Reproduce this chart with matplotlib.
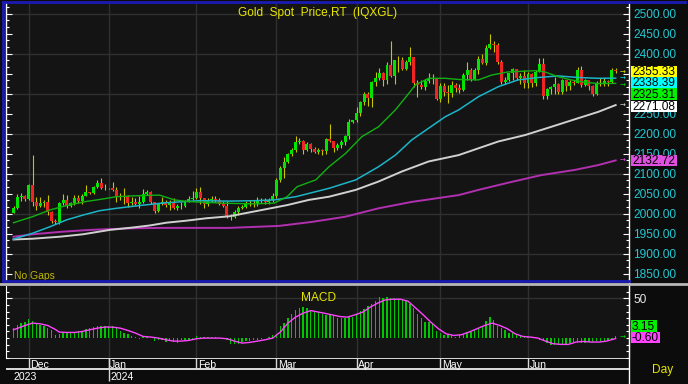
import numpy as np
import pandas as pd
import matplotlib
matplotlib.use('Agg')
import matplotlib.pyplot as plt
from matplotlib.patches import Rectangle

plt.rcParams['font.family'] = ['Liberation Sans', 'DejaVu Sans']

# daily bars, 27 Nov 2023 .. 4 Jul 2024
dates = pd.bdate_range('2023-11-27', '2024-07-04')

opens = [2002, 2014, 2041, 2044, 2036, 2072, 2029, 2019, 2026, 2029, 2004, 1982, 1980, 2027, 2035, 2019, 2027, 2040, 2031, 2045,
         2053, 2052, 2067, 2077, 2065, 2063, 2063, 2059, 2041, 2043, 2045, 2027, 2030, 2024, 2028, 2049, 2055, 2028, 2006, 2023,
         2029, 2021, 2029, 2014, 2020, 2018, 2032, 2037, 2039, 2054, 2039, 2025, 2035, 2035, 2034, 2024, 2020, 1992, 1992, 2004,
         2013, 2017, 2025, 2026, 2024, 2035, 2031, 2029, 2034, 2044, 2083, 2115, 2128, 2148, 2160, 2179, 2182, 2158, 2175, 2162,
         2155, 2160, 2157, 2186, 2181, 2165, 2172, 2178, 2194, 2230, 2233, 2251, 2280, 2300, 2290, 2330, 2339, 2352, 2333, 2372,
         2344, 2383, 2383, 2361, 2379, 2391, 2327, 2322, 2316, 2332, 2337, 2336, 2286, 2320, 2303, 2301, 2322, 2314, 2309, 2346,
         2360, 2336, 2358, 2386, 2376, 2415, 2425, 2421, 2378, 2329, 2334, 2351, 2361, 2338, 2343, 2326, 2350, 2327, 2355, 2375,
         2294, 2311, 2316, 2324, 2303, 2333, 2319, 2330, 2327, 2360, 2322, 2334, 2320, 2298, 2327, 2326, 2331, 2330, 2358]
highs = [2018, 2048, 2052, 2047, 2075, 2146, 2042, 2041, 2035, 2047, 2006, 1986, 2030, 2048, 2047, 2030, 2046, 2047, 2049, 2071,
         2055, 2070, 2084, 2088, 2074, 2065, 2079, 2066, 2051, 2064, 2047, 2041, 2040, 2045, 2062, 2058, 2057, 2030, 2026, 2041,
         2033, 2034, 2040, 2025, 2029, 2035, 2043, 2056, 2065, 2066, 2040, 2039, 2044, 2044, 2039, 2031, 2031, 1998, 2008, 2018,
         2022, 2031, 2034, 2035, 2042, 2038, 2040, 2039, 2052, 2088, 2119, 2141, 2152, 2165, 2195, 2189, 2185, 2180, 2177, 2167,
         2165, 2162, 2190, 2223, 2182, 2177, 2184, 2196, 2236, 2234, 2266, 2281, 2305, 2305, 2331, 2354, 2365, 2354, 2378, 2431,
         2384, 2393, 2392, 2385, 2417, 2392, 2334, 2335, 2337, 2352, 2349, 2337, 2326, 2326, 2322, 2331, 2326, 2324, 2351, 2378,
         2365, 2363, 2395, 2400, 2422, 2450, 2431, 2427, 2383, 2341, 2351, 2364, 2362, 2351, 2360, 2354, 2352, 2358, 2388, 2388,
         2315, 2318, 2342, 2326, 2337, 2334, 2335, 2334, 2366, 2368, 2337, 2335, 2322, 2332, 2338, 2339, 2334, 2365, 2364]
lows = [2001, 2011, 2031, 2031, 2034, 2018, 2009, 2016, 2017, 1996, 1976, 1973, 1974, 2022, 2015, 2016, 2021, 2026, 2023, 2043,
        2050, 2049, 2064, 2062, 2058, 2061, 2056, 2030, 2033, 2024, 2016, 2022, 2021, 2013, 2027, 2046, 2024, 2002, 2005, 2021,
        2016, 2010, 2011, 2009, 2011, 2017, 2028, 2035, 2036, 2025, 2014, 2019, 2030, 2029, 2021, 2016, 1990, 1984, 1990, 1996,
        2012, 2015, 2019, 2016, 2019, 2026, 2025, 2024, 2030, 2038, 2079, 2088, 2126, 2143, 2155, 2175, 2150, 2156, 2155, 2151,
        2150, 2146, 2150, 2180, 2155, 2160, 2165, 2171, 2186, 2226, 2228, 2245, 2271, 2268, 2266, 2320, 2333, 2319, 2325, 2342,
        2324, 2355, 2359, 2359, 2372, 2316, 2291, 2311, 2308, 2326, 2325, 2285, 2280, 2295, 2277, 2291, 2303, 2302, 2306, 2333,
        2332, 2335, 2350, 2373, 2372, 2412, 2404, 2374, 2325, 2325, 2332, 2333, 2334, 2324, 2314, 2314, 2316, 2318, 2353, 2287,
        2287, 2298, 2299, 2300, 2298, 2307, 2309, 2322, 2327, 2316, 2318, 2309, 2293, 2297, 2319, 2318, 2318, 2327, 2352]
closes = [2014, 2041, 2044, 2036, 2072, 2029, 2019, 2026, 2029, 2004, 1982, 1980, 2027, 2035, 2019, 2027, 2040, 2031, 2045, 2053,
          2052, 2067, 2077, 2065, 2063, 2063, 2059, 2041, 2043, 2045, 2027, 2030, 2024, 2028, 2049, 2055, 2028, 2006, 2023, 2029,
          2021, 2029, 2014, 2020, 2018, 2032, 2037, 2039, 2054, 2039, 2025, 2035, 2035, 2034, 2024, 2020, 1992, 1992, 2004, 2013,
          2017, 2025, 2026, 2024, 2035, 2031, 2029, 2034, 2044, 2083, 2115, 2128, 2148, 2160, 2179, 2182, 2158, 2175, 2162, 2155,
          2160, 2157, 2186, 2181, 2165, 2172, 2178, 2194, 2230, 2233, 2251, 2280, 2300, 2290, 2330, 2339, 2352, 2333, 2372, 2344,
          2383, 2383, 2361, 2379, 2391, 2327, 2322, 2316, 2332, 2337, 2336, 2286, 2320, 2303, 2301, 2322, 2314, 2309, 2346, 2360,
          2336, 2358, 2386, 2376, 2415, 2425, 2421, 2378, 2329, 2334, 2351, 2361, 2338, 2343, 2326, 2350, 2327, 2355, 2375, 2294,
          2311, 2316, 2324, 2303, 2333, 2319, 2330, 2327, 2360, 2322, 2334, 2320, 2298, 2327, 2326, 2331, 2330, 2358, 2355.33]

# moving averages (bar index, value)
ma20_idx = [0, 5, 9.6, 14, 19, 22.6, 27, 31.3, 38.3, 42.2, 45.6, 54.5, 63.2, 68.4, 71.8, 74.4, 79.3, 82.8, 87.1, 91.4,
            95.8, 100.2, 103.7, 105.4, 108.9, 113.3, 116.8, 122, 125.4, 129.8, 136.8, 139.4, 142.9, 146.3, 149.9, 153.4, 158]
ma20_val = [1977, 1992, 2009, 2020, 2030, 2035, 2042, 2044, 2046, 2034, 2030, 2026, 2024, 2026, 2042, 2067, 2084, 2117, 2150, 2192,
            2217, 2259, 2300, 2321, 2338, 2338, 2335, 2334, 2346, 2354, 2357, 2354, 2342, 2334, 2328, 2325, 2325.31]
ma50_idx = [0, 5.1, 9.6, 13.9, 18.2, 22.6, 27, 33.1, 40.1, 48.8, 56.6, 63.2, 68.4, 74.1, 82.8, 89.8, 95.8, 100.2, 104.5, 108.9,
            113.3, 116.8, 122, 127.2, 132.4, 137.7, 142.9, 148.1, 153.4, 158]
ma50_val = [1936, 1951, 1967, 1984, 1996, 2007, 2013, 2020, 2027, 2032, 2031, 2032, 2034, 2042, 2063, 2084, 2117, 2146, 2184, 2213,
            2242, 2259, 2292, 2317, 2334, 2340, 2344, 2340, 2338, 2338.39]
ma100_idx = [0, 5.1, 12.2, 18.2, 25.3, 31.3, 35.7, 40.1, 45.3, 50.5, 56.6, 65.3, 71.8, 77.5, 82.8, 89.8, 95.8, 101.9, 108.9, 116.8,
             122, 127.2, 134.2, 141.2, 148.1, 153.4, 158]
ma100_val = [1935, 1937, 1942, 1948, 1959, 1965, 1970, 1977, 1982, 1988, 1993, 2009, 2021, 2034, 2042, 2059, 2080, 2105, 2130, 2146,
             2163, 2180, 2196, 2217, 2238, 2254, 2271.08]
ma200_idx = [0, 5.1, 12.2, 20, 25.3, 31.3, 39.1, 56.6, 69.7, 78.3, 87.1, 95.8, 104.5, 116.8, 122, 129.8, 138.5, 147.3, 153.4, 158]
ma200_val = [1942, 1948, 1954, 1959, 1961, 1963, 1964, 1964, 1969, 1979, 1992, 2013, 2029, 2046, 2059, 2077, 2096, 2109, 2121, 2132.72]

# MACD histogram (one per bar) and signal line
macd = [12.5, 17, 19, 20, 24, 21, 18, 17, 15.4, 12.5, 9.6, 3.3, 5.4, 6.7, 6.7, 6.3, 7.5, 8.3, 9.2, 11.7,
        12.1, 14.2, 14.6, 15.4, 15.4, 14.6, 14.6, 12.5, 8.3, 6.7, 4.6, 2.1, 1.3, -0.8, 1.3, 0.8, 0.4, -3.8, -2.9, -2.1,
        -4.6, -3.8, -5.4, -5.8, -2.9, -2.1, -2.1, -0.8, 2.1, 1.3, 1.3, 1.3, 1.3, 1.3, 0, -0.8, -2.9, -7.1, -7.9, -7.1,
        -5.4, -3.8, -3.8, -2.9, -2.9, -0.8, 0, 1.3, 3.3, 5.4, 15.4, 19.2, 25, 30.4, 35.4, 37.9, 38.8, 37.9, 35.4, 34.6,
        33.3, 30.4, 29.2, 29.2, 27.5, 25.4, 25, 25.4, 26.3, 27.1, 30.4, 34.6, 36.7, 40.8, 42.9, 46.3, 51.3, 50, 51.3, 50.4,
        50.4, 49.2, 48.3, 47.9, 42.9, 37.9, 30.4, 25, 20, 20, 17.1, 8.3, 6.3, 3.3, 3.3, 3.3, 1.3, 3.3, 5.4, 7.5,
        7.5, 9.6, 12.9, 14.6, 21.3, 26.3, 22.9, 15.8, 12.5, 10.4, 6.3, 6.3, 5.4, 2.5, 2.1, 1.3, 0.4, 0, -2.1, -3.8,
        -6.3, -8.3, -8.3, -9.2, -8.3, -7.5, -6.3, -5.4, -5.4, -5.8, -6.3, -5.4, -5.0, -4.2, -4.2, -3.8, -2.5, -0.8, 3.15]
sig_idx = [0, 3, 5, 7, 9, 11, 12, 14, 16, 18, 20, 22, 24, 26, 28, 30, 32, 34, 36, 38,
           40, 42, 44, 46, 48, 50, 52, 54, 56, 58, 60, 62, 64, 66, 68, 70, 72, 74, 76, 78,
           81.5, 85.6, 87.6, 89.6, 91.6, 93.6, 95.5, 97.5, 99.5, 101.5, 103.5, 105.5, 107.5, 109.5, 111.5, 113.5, 115.5, 117.5, 119.5, 121.6,
           123.6, 125.6, 127.6, 129.6, 131.6, 133.6, 135.6, 137.6, 139.6, 141.6, 143.6, 145.6, 147.6, 149.6, 151.6, 153.6, 155.6, 158]
sig_val = [10.4, 15.8, 18.8, 17.9, 15.8, 10.8, 7.5, 7.1, 7.1, 8.3, 10.4, 12.5, 13.8, 13.8, 12.5, 9.6, 6.3, 2.1, 1.3, 0,
           -2.1, -3.8, -3.8, -2.9, -0.8, 0, 0, 0, -0.8, -3.8, -6.3, -5.4, -3.8, -2.1, 0, 7.5, 18.8, 26.3, 31.3, 34.5,
           31.3, 27.1, 26.3, 29.2, 32.5, 38.8, 43.8, 47.9, 48.8, 48.8, 46.3, 37.9, 29.2, 20, 11.7, 5.4, 3.3, 4.2, 7.5, 11.7,
           15.8, 18.8, 15.8, 11.7, 5.4, 2.1, 1.3, 0, -3.8, -7.1, -7.9, -7.9, -5.0, -4.2, -5.0, -5.0, -3.8, -0.60]

# axis labels hidden under the value tags in the original
hidden_labels = [2300, 2350]

BG = '#141414'
GRID = '#303030'
W, H = 688, 384

fig = plt.figure(figsize=(W / 100, H / 100), dpi=100, facecolor='#0c0c0c')


def px_axes(x0, y0, x1, y1):
    return fig.add_axes([x0 / W, 1 - y1 / H, (x1 - x0) / W, (y1 - y0) / H])


def px_text(x, y, s, **kw):
    fig.text(x / W, 1 - y / H, s, **kw)


def price_fmt(v, pos):
    if int(round(v)) in hidden_labels:
        return ''
    return '%.2f' % v


idx = np.arange(len(dates))
xlo, xhi = -1.97, 161.5
month_first = dates.to_series().groupby(dates.to_period('M')).head(1)
month_pos = [int(np.where(dates == d)[0][0]) for d in month_first.index[1:-1]]
month_lab = [d.strftime('%b') for d in month_first.index[1:-1]]

# ---------------- price panel
ax = px_axes(6, 3, 629, 280)
ax.set_facecolor(BG)
ax.set_xlim(xlo, xhi)
ax.set_ylim(1833.75, 2526.25)
for p in range(1900, 2501, 100):
    ax.axhline(p, color=GRID, lw=1, zorder=0)
for m in month_pos:
    ax.axvline(m, color=GRID, lw=1, zorder=0)

o = np.array(opens, float)
c = np.array(closes, float)
up = c >= o
ax.vlines(idx, lows, highs, color='#c8c400', lw=0.8, zorder=2)
body = np.maximum(np.abs(c - o), 1.2)
ax.bar(idx, body, bottom=np.minimum(o, c), width=0.78,
       color=np.where(up, '#00e400', '#f02424'), lw=0, zorder=3)

ax.plot(ma200_idx, ma200_val, color='#b030b0', lw=1.4, zorder=4)
ax.plot(ma100_idx, ma100_val, color='#d0d0d0', lw=1.4, zorder=4)
ax.plot(ma50_idx, ma50_val, color='#1cb4c8', lw=1.1, zorder=4)
ax.plot(ma20_idx, ma20_val, color='#12b012', lw=1.0, zorder=4)

ax.set_xticks([])
ax.set_yticks(np.arange(1850, 2501, 50))
ax.set_yticks(np.arange(1850, 2526, 50 / 3), minor=True)
ax.yaxis.set_major_formatter(matplotlib.ticker.FuncFormatter(price_fmt))
ax.tick_params(axis='y', which='both', left=True, right=True, direction='in', colors='white',
               labelleft=False, labelright=True, labelcolor='#22c8d2', labelsize=8.6, pad=3)
ax.tick_params(axis='y', which='major', length=4, width=0.8)
ax.tick_params(axis='y', which='minor', length=2.5, width=0.8)
for s in ['top', 'bottom']:
    ax.spines[s].set_visible(False)
for s in ['left', 'right']:
    ax.spines[s].set_color('white')
    ax.spines[s].set_linewidth(1)

ax.text(0.5, 0.965, 'Gold  Spot  Price,RT  (IQXGL)', transform=ax.transAxes, ha='center', va='center',
        color='#e6e600', fontsize=8.6)
ax.text(0.013, 0.015, 'No Gaps', transform=ax.transAxes, ha='left', va='center',
        color='#c0b800', fontsize=7.5)

# ---------------- MACD panel
ax2 = px_axes(6, 286, 629, 358)
ax2.set_facecolor(BG)
ax2.set_xlim(xlo, xhi)
ax2.set_ylim(-24.6, 65.4)
ax2.axhline(50, color=GRID, lw=1, zorder=0)
for m in month_pos:
    ax2.axvline(m, color=GRID, lw=1, zorder=0)
ax2.bar(idx, macd, width=0.36, color='#00c800', lw=0, zorder=2)
ax2.plot(sig_idx, sig_val, color='#ff44ff', lw=1.0, zorder=3)
ax2.set_xticks([])
ax2.set_yticks([50])
ax2.set_yticks(np.arange(-25, 66, 25 / 3), minor=True)
ax2.tick_params(axis='y', which='both', left=True, right=True, direction='in', colors='white',
                labelleft=False, labelright=True, labelcolor='#e8e8e8', labelsize=8.6, pad=3)
ax2.tick_params(axis='y', which='major', length=4, width=0.8)
ax2.tick_params(axis='y', which='minor', length=2.5, width=0.8)
for s in ['top', 'bottom']:
    ax2.spines[s].set_visible(False)
for s in ['left', 'right']:
    ax2.spines[s].set_color('white')
ax2.text(0.473, 0.84, 'MACD', transform=ax2.transAxes, ha='left', va='center', color='#e6e600', fontsize=8.6)

# ---------------- time axis
ax3 = px_axes(6, 358, 629, 384)
ax3.set_facecolor(BG)
ax3.set_xlim(xlo, xhi)
ax3.set_ylim(26, 0)
ax3.axis('off')
ax3.axhline(0.3, color='white', lw=1.2)
ax3.axhline(11.3, color='white', lw=1.2)
for m, lab in zip(month_pos, month_lab):
    ax3.vlines(m, 0, 11.3, color='#d8d8d8', lw=1)
    ax3.text(m + 0.4, 6.5, lab, color='white', fontsize=7.6, ha='left', va='center')
jan = month_pos[1]
ax3.vlines(jan, 0, 23, color='#d8d8d8', lw=1)
ax3.text(0.1, 18.5, '2023', color='white', fontsize=7.6, ha='left', va='center')
ax3.text(jan + 0.4, 18.5, '2024', color='white', fontsize=7.6, ha='left', va='center')

fig.add_artist(plt.Line2D([629 / W, 629 / W], [0, 1 - 280 / H], color='white', lw=1))
fig.add_artist(plt.Line2D([3 / W, 3 / W], [1 - 280 / H, 1 - 2 / H], color='#1a1ab4', lw=2))
fig.add_artist(plt.Line2D([3 / W, 685 / W], [1 - 1.5 / H, 1 - 1.5 / H], color='#1a1ab4', lw=2))
fig.add_artist(plt.Line2D([3 / W, 629 / W], [1 - 280.5 / H, 1 - 280.5 / H], color='#1a1ab4', lw=2))
fig.add_artist(plt.Line2D([0, 1], [1 - 283.5 / H, 1 - 283.5 / H], color='#b8b8b8', lw=2))
px_text(652, 370, 'Day', color='#e6e600', fontsize=8.6, va='center')

# ---------------- last value tags
tags = [(71.5, closes[-1], '#ffff00'), (83, ma50_val[-1], '#00ffff'), (94.2, ma20_val[-1], '#00f000'),
        (106.5, ma100_val[-1], '#ffffff'), (160.3, ma200_val[-1], '#e050e0')]
for y, v, col in tags:
    fig.add_artist(Rectangle((631 / W, 1 - (y + 5.8) / H), 46 / W, 11.6 / H, color=col, lw=0))
    px_text(632, y + 0.5, '%.2f' % v, color='black', fontsize=8.6, va='center')
for y, col in [(72.3, '#e6e600'), (78.5, '#00e0e0'), (85.5, '#00d000'), (105.7, '#d8d8d8'), (160.3, '#e050e0')]:
    px_text(620, y, '→', color=col, fontsize=5, va='center', family='DejaVu Sans')
for y, v, col, w in [(326, macd[-1], '#00f000', 26), (337.5, sig_val[-1], '#ff44ff', 29)]:
    fig.add_artist(Rectangle((631 / W, 1 - (y + 5.8) / H), w / W, 11.6 / H, color=col, lw=0))
    px_text(632, y + 0.5, '%.2f' % v, color='black', fontsize=8.6, va='center')
px_text(620, 338, '→', color='#00d000', fontsize=5, va='center', family='DejaVu Sans')

fig.savefig('out.png', dpi=100, facecolor=fig.get_facecolor())
